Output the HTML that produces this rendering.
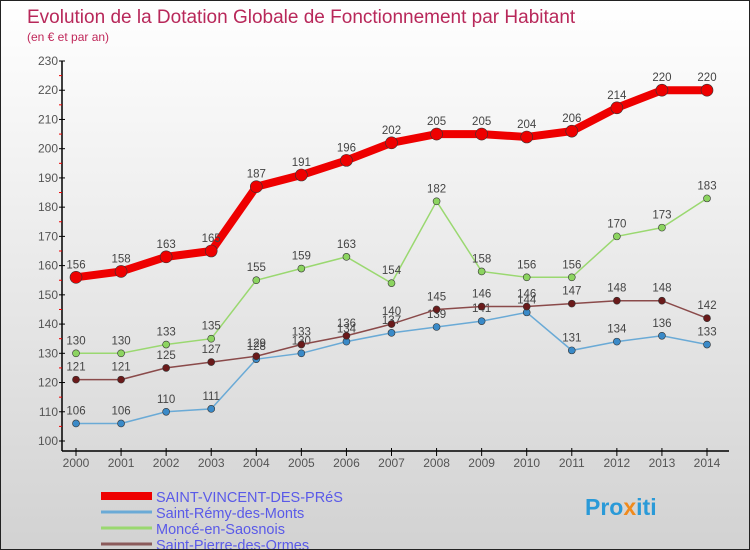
<!DOCTYPE html>
<html><head><meta charset="utf-8"><style>
body{margin:0}
#c{width:750px;height:550px;position:relative;box-sizing:border-box;border:1px solid #222;background:linear-gradient(#fff,#f2f2f2 30%,#d2d2d2);font-family:"Liberation Sans",sans-serif;overflow:hidden}
</style></head><body>
<div id="c">
<svg id="s" width="750" height="550" style="position:absolute;left:0;top:0">
<text x="26" y="22" font-size="19" fill="#b8285a">Evolution de la Dotation Globale de Fonctionnement par Habitant</text>
<text x="26" y="40" font-size="12" fill="#c0285a">(en € et par an)</text>
<g id="axes"></g><g id="series"></g><g id="legend"></g>
<text x="584" y="514" font-size="23" font-weight="bold" fill="#2a9ad8">Pro<tspan fill="#f08a1c">x</tspan>iti</text>
</svg>
</div>
<script>
const years=[2000,2001,2002,2003,2004,2005,2006,2007,2008,2009,2010,2011,2012,2013,2014];
const yTicks=[100,110,120,130,140,150,160,170,180,190,200,210,220,230];
const svp=[156,158,163,165,187,191,196,202,205,205,204,206,214,220,220];
const remy=[106,106,110,111,128,130,134,137,139,141,144,131,134,136,133];
const monce=[130,130,133,135,155,159,163,154,182,158,156,156,170,173,183];
const pierre=[121,121,125,127,129,133,136,140,145,146,146,147,148,148,142];
const names=["SAINT-VINCENT-DES-PRéS","Saint-Rémy-des-Monts","Moncé-en-Saosnois","Saint-Pierre-des-Ormes"];
const NS="http://www.w3.org/2000/svg";
const X=i=>75+i*(706-75)/14;
const Y=v=>440-(v-100)*380/130;
function mk(tag,attrs,parent,txt){const e=document.createElementNS(NS,tag);for(const k in attrs)e.setAttribute(k,attrs[k]);if(txt!==undefined)e.textContent=txt;parent.appendChild(e);return e;}
const ax=document.getElementById('axes');
let l=mk('line',{x1:61,y1:60,x2:61,y2:450,stroke:'#000','stroke-width':1.5},ax);


l=mk('line',{x1:61,y1:450,x2:728,y2:450,stroke:'#000','stroke-width':1.5},ax);


yTicks.forEach((v,i)=>{
 mk('line',{x1:58,y1:Y(v),x2:64,y2:Y(v),stroke:'#000'},ax);
 if(i<yTicks.length-1)mk('line',{x1:58,y1:Y(v+5),x2:61,y2:Y(v+5),stroke:'#e00'},ax);
 const t=mk('text',{x:57,y:Y(v)+4,'font-size':12,fill:'#555','text-anchor':'end'},ax,v);
 
 
});
years.forEach((y,i)=>{
 mk('line',{x1:X(i),y1:447,x2:X(i),y2:455,stroke:'#000'},ax);
 const t=mk('text',{x:X(i),y:466,'font-size':12,fill:'#555','text-anchor':'middle'},ax,y);
 
 
});
const sg=document.getElementById('series');
function series(data,color,dot,w,r,name){
 const g=mk('g',{},sg);
 
 
 mk('polyline',{points:data.map((v,i)=>X(i)+','+Y(v)).join(' '),fill:'none',stroke:color,'stroke-width':w},g);
 data.forEach((v,i)=>{
  const c=mk('circle',{cx:X(i),cy:Y(v),r:r,fill:dot,stroke:'#333','stroke-width':0.6},g);
  
  
  const t=mk('text',{x:X(i),y:Y(v)-9,'font-size':11.5,fill:'#444','text-anchor':'middle'},g,v);
  
  
 });
}
series(remy,'#6aaad6','#3a8ac8',1.5,3.5,'saint-remy-series');
series(monce,'#9ad870','#8cd460',1.5,3.5,'monce-series');
series(pierre,'#8a4a4a','#6a1a1a',1.5,3.5,'saint-pierre-series');
series(svp,'#ee0000','#ee0000',8,6,'saint-vincent-series');
const lg=document.getElementById('legend');
const lc=['#ee0000','#6aaad6','#9ad870','#8a5a5a'],lw=[8,3,3,3];
names.forEach((n,i)=>{
 const y=495+i*16;
 const ln=mk('line',{x1:100,y1:y,x2:151,y2:y,stroke:lc[i],'stroke-width':lw[i]},lg);
 
 
 const t=mk('text',{x:155,y:y+6,'font-size':14.5,fill:'#5a5ae8'},lg,n);
 
 
});
</script>
</body></html>
